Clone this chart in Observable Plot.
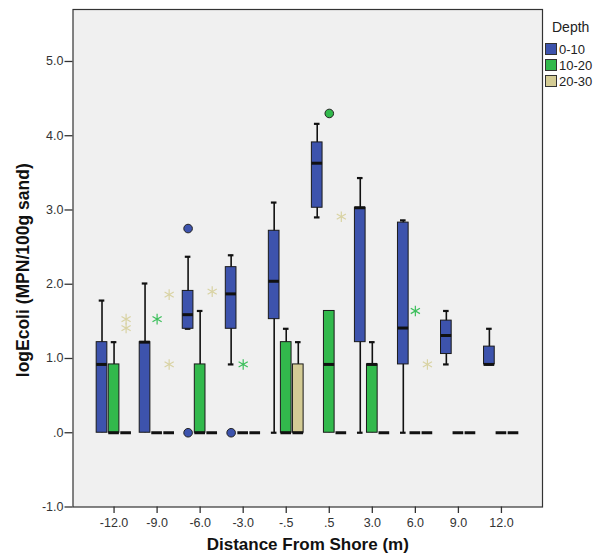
<!DOCTYPE html>
<html>
<head>
<meta charset="utf-8">
<script src="https://cdn.jsdelivr.net/npm/d3@7"></script>
<script src="https://cdn.jsdelivr.net/npm/@observablehq/plot@0.6"></script>
<style>
  html, body { margin: 0; padding: 0; background: #fff; }
  #wrap { position: relative; width: 601px; height: 558px; font-family: "Liberation Sans", Arial, sans-serif; }
  #legend { position: absolute; left: 545px; top: 19px; font-size: 13px; color: #222; }
  #legend .title { font-size: 14px; margin: 0 0 6px 7px; }
  #legend .item { display: flex; align-items: center; height: 16px; }
  #legend .sw { width: 10px; height: 10px; border: 1px solid #333; margin-right: 2px; }
</style>
</head>
<body>
<div id="wrap"><div id="chart"></div><div id="legend"></div></div>
<script>
// ---- data ----
const categories = ["-12.0", "-9.0", "-6.0", "-3.0", "-.5", ".5", "3.0", "6.0", "9.0", "12.0"];
const depths = ["0-10", "10-20", "20-30"];
const depthColors = ["#3d53ad", "#32b94c", "#d4cc95"];
const starColors = ["#3d53ad", "#3dbf5c", "#d9d3a4"];

// depth 0-10
const d1Low  = [0,    0,    1.40, 0.92, 0,    2.90, 0,    0,    0.92, 0.92];
const d1Q1   = [0,    0,    1.40, 1.40, 1.53, 3.03, 1.22, 0.92, 1.06, 0.92];
const d1Med  = [0.92, 1.22, 1.59, 1.87, 2.04, 3.63, 3.03, 1.41, 1.31, 0.92];
const d1Q3   = [1.22, 1.22, 1.91, 2.23, 2.72, 3.91, 3.03, 2.83, 1.51, 1.16];
const d1High = [1.78, 2.01, 2.37, 2.39, 3.10, 4.16, 3.43, 2.86, 1.64, 1.40];
// depth 10-20
const d2Low  = [0,    0, 0,    0, 0,    0,    0,    0, 0, 0];
const d2Q1   = [0,    0, 0,    0, 0,    0,    0,    0, 0, 0];
const d2Med  = [0,    0, 0,    0, 0,    0.92, 0.92, 0, 0, 0];
const d2Q3   = [0.92, 0, 0.92, 0, 1.22, 1.64, 0.92, 0, 0, 0];
const d2High = [1.22, 0, 1.64, 0, 1.40, 1.64, 1.22, 0, 0, 0];
// depth 20-30
const d3Low  = [0, 0, 0, 0, 0,    0, 0, 0, 0, 0];
const d3Q1   = [0, 0, 0, 0, 0,    0, 0, 0, 0, 0];
const d3Med  = [0, 0, 0, 0, 0,    0, 0, 0, 0, 0];
const d3Q3   = [0, 0, 0, 0, 0.92, 0, 0, 0, 0, 0];
const d3High = [0, 0, 0, 0, 1.22, 0, 0, 0, 0, 0];

// outliers (circles) and extremes (stars)
const circleCat   = ["-6.0", "-6.0", "-3.0", ".5"];
const circleDepth = ["0-10", "0-10", "0-10", "10-20"];
const circleVal   = [2.75, 0, 0, 4.30];
const starCat   = ["-12.0", "-12.0", "-9.0", "-9.0", "-9.0", "-6.0", "-3.0", ".5", "6.0", "6.0"];
const starDepth = ["20-30", "20-30", "10-20", "20-30", "20-30", "20-30", "10-20", "20-30", "10-20", "20-30"];
const starVal   = [1.53, 1.41, 1.53, 1.86, 0.92, 1.90, 0.92, 2.91, 1.64, 0.92];

const yTicks = [-1, 0, 1, 2, 3, 4, 5];
const yTickLabels = ["-1.0", ".0", "1.0", "2.0", "3.0", "4.0", "5.0"];
const xTitle = "Distance From Shore (m)";
const yTitle = "logEcoli (MPN/100g sand)";

// ---- build ----
const offsets = [-0.28, 0, 0.28];
const hw = 0.124, cap = 0.065;
const stats = [
  [d1Low, d1Q1, d1Med, d1Q3, d1High],
  [d2Low, d2Q1, d2Med, d2Q3, d2High],
  [d3Low, d3Q1, d3Med, d3Q3, d3High]
];
const rows = [];
depths.forEach((d, j) => categories.forEach((c, i) => {
  const [lo, q1, med, q3, hi] = stats[j].map(a => a[i]);
  rows.push({x: i + offsets[j], depth: d, lo, q1, med, q3, hi});
}));
const xOf = (cat, dep) => categories.indexOf(cat) + offsets[depths.indexOf(dep)];
const circles = circleVal.map((v, k) => ({x: xOf(circleCat[k], circleDepth[k]), y: v, depth: circleDepth[k]}));
const stars = starVal.map((v, k) => ({x: xOf(starCat[k], starDepth[k]), y: v, depth: starDepth[k]}));
const starColor = d => starColors[depths.indexOf(d)];

const chart = Plot.plot({
  width: 601,
  height: 558,
  marginTop: 9,
  marginBottom: 51.5,
  marginLeft: 72.5,
  marginRight: 59,
  style: {fontFamily: "'Liberation Sans', Arial, sans-serif", fontSize: "12.5px", color: "#333", background: "#fff"},
  x: {type: "linear", domain: [-0.954, categories.length - 1 + 0.954]},
  y: {domain: [-1, 5.7]},
  color: {domain: depths, range: depthColors},
  marks: [
    Plot.frame({fill: "#f0f0f0", stroke: null}),
    Plot.axisX({ticks: d3.range(categories.length), tickFormat: i => categories[i], tickSize: 6.5, tickPadding: 4.5, label: null, strokeWidth: 1.3}),
    Plot.axisY({ticks: yTicks, tickFormat: v => yTickLabels[yTicks.indexOf(v)], tickSize: 8, tickPadding: 1.5, label: null, strokeWidth: 1.3}),
    Plot.ruleX(rows.filter(r => r.hi > r.lo), {x: "x", y1: "lo", y2: "hi", stroke: "#111", strokeWidth: 1.6}),
    Plot.ruleY(rows.filter(r => r.hi > r.q3), {y: "hi", x1: r => r.x - cap, x2: r => r.x + cap, stroke: "#111", strokeWidth: 2.2}),
    Plot.ruleY(rows.filter(r => r.lo < r.q1 || (r.lo > 0)), {y: "lo", x1: r => r.x - cap, x2: r => r.x + cap, stroke: "#111", strokeWidth: 2.2}),
    Plot.rect(rows.filter(r => r.q3 > r.q1), {x1: r => r.x - hw, x2: r => r.x + hw, y1: "q1", y2: "q3", fill: "depth", stroke: "#1a1a1a", strokeWidth: 1}),
    Plot.ruleY(rows, {y: "med", x1: r => r.x - hw, x2: r => r.x + hw, stroke: "#111", strokeWidth: 3}),
    Plot.dot(circles, {x: "x", y: "y", fill: "depth", stroke: "#222", strokeWidth: 1, r: 4.3}),
    Plot.dot(stars, {x: "x", y: "y", symbol: "asterisk", stroke: d => starColor(d.depth), strokeWidth: 1.2, r: 5}),
    Plot.text([yTitle], {frameAnchor: "left", textAnchor: "middle", rotate: -90, dx: -50, dy: 12, fontSize: 17.5, fontWeight: "bold", fill: "#111"}),
    Plot.text([xTitle], {frameAnchor: "bottom", dy: 43, fontSize: 17, fontWeight: "bold", fill: "#111"}),
    Plot.frame({stroke: "#333", strokeWidth: 1.2})
  ]
});
document.getElementById("chart").appendChild(chart);

// legend
const lg = document.getElementById("legend");
const t = document.createElement("div"); t.className = "title"; t.textContent = "Depth"; lg.appendChild(t);
depths.forEach((d, j) => {
  const it = document.createElement("div"); it.className = "item";
  const sw = document.createElement("div"); sw.className = "sw"; sw.style.background = depthColors[j];
  const lab = document.createElement("span"); lab.textContent = d;
  it.appendChild(sw); it.appendChild(lab); lg.appendChild(it);
});
</script>
</body>
</html>
